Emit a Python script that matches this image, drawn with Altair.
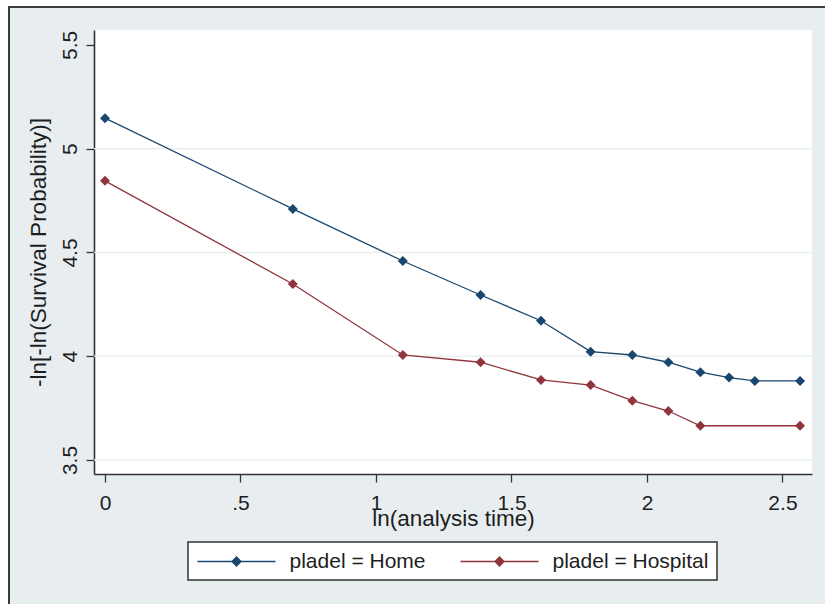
import altair as alt
import pandas as pd

# ln(analysis time) and -ln[-ln(S)] for each place of delivery
ln_time_home = [0.0, 0.693, 1.099, 1.386, 1.609, 1.792, 1.946, 2.079, 2.197, 2.303, 2.398, 2.565]
lnln_home = [5.147, 4.710, 4.459, 4.295, 4.171, 4.022, 4.006, 3.971, 3.923, 3.897, 3.881, 3.881]
ln_time_hosp = [0.0, 0.693, 1.099, 1.386, 1.609, 1.792, 1.946, 2.079, 2.197, 2.565]
lnln_hosp = [4.845, 4.348, 4.006, 3.971, 3.886, 3.861, 3.786, 3.736, 3.665, 3.665]

groups = ["pladel = Home", "pladel = Hospital"]
colors = ["#1a476f", "#90353b"]
x_ticks = [0, 0.5, 1, 1.5, 2, 2.5]
y_ticks = [3.5, 4, 4.5, 5, 5.5]
grid_levels = [3.5, 4, 4.5, 5]

FONT = "Liberation Sans"
INK = "#1e1e1e"
AXIS_INK = "#333333"
BG = "#e8eef0"

rows = []
for g, xs, ys in [(groups[0], ln_time_home, lnln_home), (groups[1], ln_time_hosp, lnln_hosp)]:
    for xv, yv in zip(xs, ys):
        rows.append({"ln_t": xv, "value": yv, "group": g})
df = pd.DataFrame(rows)

x_scale = alt.Scale(domain=[-0.0406, 2.609], nice=False, zero=False)
y_scale = alt.Scale(domain=[3.4325, 5.572], nice=False, zero=False)

# legend key: a 78px line with a small diamond, drawn as one custom path
legend = alt.Legend(
    title=None,
    orient="none",
    legendX=94,
    legendY=512,
    direction="horizontal",
    fillColor="white",
    strokeColor=AXIS_INK,
    padding=8.5,
    symbolType="M-3.9,0L3.9,0M-0.45,0L0,-0.45L0.45,0L0,0.45Z",
    symbolSize=400,
    symbolOffset=29,
    symbolStrokeWidth=1.3,
    labelFont=FONT,
    labelFontSize=21,
    labelColor=INK,
    labelOffset=42,
    columnPadding=32,
    labelLimit=400,
)

y_axis = alt.Axis(
    values=y_ticks,
    format="~g",
    title="-ln[-ln(Survival Probability)]",
    titleAngle=270,
    titleX=-56,
    titleY=222,
    titleAlign="center",
    titleBaseline="middle",
    grid=False,
    tickSize=8,
    labelAngle=270,
    labelAlign="center",
    labelBaseline="alphabetic",
    labelPadding=10,
)
x_axis = alt.Axis(
    values=x_ticks,
    labelExpr="datum.value == 0.5 ? '.5' : format(datum.value, '~g')",
    title="ln(analysis time)",
    titleY=51,
    titleBaseline="alphabetic",
    grid=False,
    tickSize=8,
    labelPadding=10,
    labelBaseline="top",
)

grid = alt.Chart(pd.DataFrame({"level": grid_levels})).mark_rule(
    color="#e9efef", strokeWidth=1.5
).encode(y=alt.Y("level:Q", scale=y_scale, axis=y_axis))

base = alt.Chart(df).encode(
    x=alt.X("ln_t:Q", scale=x_scale, axis=x_axis),
    y=alt.Y("value:Q", scale=y_scale, axis=y_axis),
    color=alt.Color("group:N", scale=alt.Scale(domain=groups, range=colors), legend=legend),
)
lines = base.mark_line(strokeWidth=1.3).encode(order=alt.Order("ln_t:Q"))
points = base.mark_point(shape="diamond", filled=True, size=100, opacity=1)

# outer frame: white edge strips and the dark top/left border lines
one = pd.DataFrame({"k": [0]})
edge_top = alt.Chart(one).mark_rect(fill="white").encode(
    x=alt.value(-94), x2=alt.value(731), y=alt.value(-30), y2=alt.value(-23)
)
edge_left = alt.Chart(one).mark_rect(fill="white").encode(
    x=alt.value(-94), x2=alt.value(-86), y=alt.value(-30), y2=alt.value(574)
)
line_top = alt.Chart(one).mark_rule(color="#3c3c3c", strokeWidth=2).encode(
    x=alt.value(-86), x2=alt.value(731), y=alt.value(-23)
)
line_left = alt.Chart(one).mark_rule(color="#3c3c3c", strokeWidth=2).encode(
    x=alt.value(-85), y=alt.value(-23), y2=alt.value(574)
)

chart = (
    alt.layer(edge_top, edge_left, line_top, line_left, grid, lines, points)
    .properties(
        width=718,
        height=444,
        autosize=alt.AutoSizeParams(type="none"),
        padding={"left": 94, "top": 30, "right": 13, "bottom": 130},
        background=BG,
    )
    .configure_view(fill="white", strokeWidth=0)
    .configure_axis(
        labelFont=FONT,
        labelFontSize=21,
        labelColor=INK,
        titleFont=FONT,
        titleFontSize=22.5,
        titleFontWeight="normal",
        titleColor=INK,
        domainColor=AXIS_INK,
        domainWidth=1.6,
        tickColor=AXIS_INK,
        tickWidth=1.3,
    )
    .configure_legend(strokeWidth=1.5)
)

chart.save("out.html", embed_options={"renderer": "svg", "actions": False})
